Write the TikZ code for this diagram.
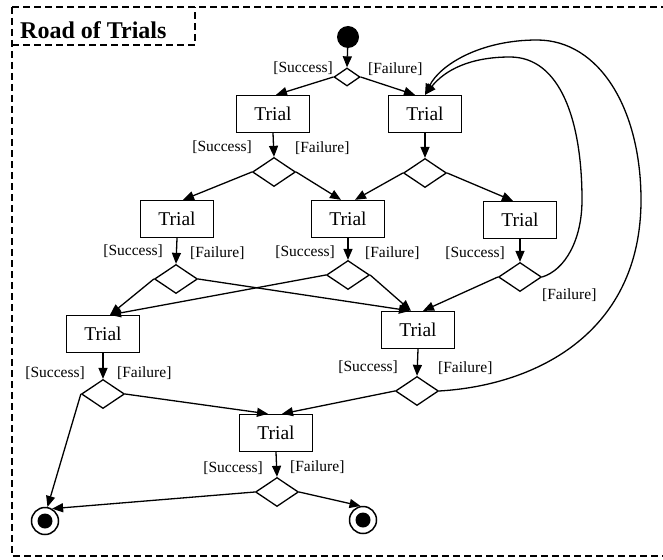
\documentclass[tikz,border=0pt]{standalone}
\usepackage{fontspec}
\setmainfont{Liberation Serif}
\usetikzlibrary{shapes.geometric,arrows.meta}
\begin{document}
\begin{tikzpicture}[x=1pt,y=-1pt,
  trial/.style={draw, line width=1.3pt, minimum width=73pt, minimum height=37pt, inner sep=0pt, font=\fontsize{19.5}{19.5}\selectfont},
  dec/.style={draw, diamond, line width=1.3pt, minimum width=43pt, minimum height=29pt, inner sep=0pt},
  smalldec/.style={draw, diamond, line width=1.3pt, minimum width=26pt, minimum height=18pt, inner sep=0pt},
  lbl/.style={font=\fontsize{15.5}{15.5}\selectfont, inner sep=0pt},
  arr/.style={line width=1.3pt, -{Triangle[length=11pt,width=9pt]}},
  frame/.style={line width=1.4pt, dash pattern=on 7pt off 4pt},
  startnode/.style={circle, fill=black, minimum size=22pt, inner sep=0pt},
  endnode/.style={circle, draw, line width=1.5pt, minimum size=27pt, inner sep=0pt,
     path picture={\fill (path picture bounding box.center) circle (7.5pt);}}
]
\useasboundingbox (0,0) rectangle (663,559);
\fill[white] (0,0) rectangle (663,559);
% frame
\draw[frame] (12,7) -- (680,7);
\draw[frame] (12,7) -- (12,556) -- (680,556);
\draw[frame] (12,45) -- (195,45) -- (195,7);
\node[anchor=west, inner sep=0pt, font=\bfseries\fontsize{24}{24}\selectfont] (title) at (20,30) {Road of Trials};

% nodes
\node[startnode] (S) at (348,37) {};
\node[smalldec] (D0) at (347,77) {};
\node[trial] (T1) at (273,114) {Trial};
\node[trial] (T2) at (425,114) {Trial};
\node[dec] (D1) at (274,172) {};
\node[dec] (D2) at (425,173) {};
\node[trial] (T3) at (177,219) {Trial};
\node[trial] (T4) at (348,219) {Trial};
\node[trial] (T5) at (520,220) {Trial};
\node[dec] (D3) at (176,279) {};
\node[dec] (D4) at (348,275) {};
\node[dec] (D5) at (520,277) {};
\node[trial] (T6) at (103,334) {Trial};
\node[trial] (T7) at (418,330) {Trial};
\node[dec] (D6) at (103,394) {};
\node[dec] (D7) at (417,391) {};
\node[trial] (T8) at (276,433) {Trial};
\node[dec] (D8) at (277,492) {};
\node[endnode] (E1) at (45,521) {};
\node[endnode] (E2) at (363,520) {};

% labels
\node[lbl, anchor=east] (l0s) at (333,68) {[Success]};
\node[lbl, anchor=west] (l0f) at (368,69) {[Failure]};
\node[lbl, anchor=east] (l1s) at (252,147) {[Success]};
\node[lbl, anchor=west] (l1f) at (295,148) {[Failure]};
\node[lbl, anchor=east] (l3s) at (163,251) {[Success]};
\node[lbl, anchor=west] (l3f) at (190,253) {[Failure]};
\node[lbl, anchor=east] (l4s) at (335,252) {[Success]};
\node[lbl, anchor=west] (l4f) at (365,253) {[Failure]};
\node[lbl, anchor=east] (l5s) at (505,253) {[Success]};
\node[lbl, anchor=west] (l5f) at (542,295) {[Failure]};
\node[lbl, anchor=east] (l6s) at (85,373) {[Success]};
\node[lbl, anchor=west] (l6f) at (117,373) {[Failure]};
\node[lbl, anchor=east] (l7s) at (398,367) {[Success]};
\node[lbl, anchor=west] (l7f) at (438,368) {[Failure]};
\node[lbl, anchor=east] (l8s) at (263,468) {[Success]};
\node[lbl, anchor=west] (l8f) at (290,467) {[Failure]};

% connectors
\draw[arr] (S) -- (D0.north);
\draw[arr] (D0.west) -- ([xshift=3pt]T1.north);
\draw[arr] (D0.east) -- ([xshift=-10pt]T2.north);
\draw[arr] (T1.south) -- (D1.north);
\draw[arr] (T2.south) -- (D2.north);
\draw[arr] (D1.west) -- ([xshift=6pt]T3.north);
\draw[arr] (D1.east) -- ([xshift=-7pt]T4.north);
\draw[arr] (D2.west) -- ([xshift=7pt]T4.north);
\draw[arr] (D2.east) -- ([xshift=-7pt]T5.north);
\draw[arr] (T3.south) -- (D3.north);
\draw[arr] (T4.south) -- (D4.north);
\draw[arr] (T5.south) -- (D5.north);
\draw[arr] (D3.west) -- ([xshift=7pt]T6.north);
\draw[arr] (D4.west) -- ([xshift=7pt]T6.north);
\draw[arr] (D3.east) -- ([xshift=-8pt]T7.north);
\draw[arr] (D4.east) -- ([xshift=-7pt]T7.north);
\draw[arr] (D5.west) -- ([xshift=5pt]T7.north);
\draw[arr] (T6.south) -- (D6.north);
\draw[arr] (T7.south) -- (D7.north);
\draw[arr] (D6.east) -- ([xshift=-8pt]T8.north);
\draw[arr] (D7.west) -- ([xshift=6pt]T8.north);
\draw[arr] (T8.south) -- (D8.north);
\draw[arr] (D6.west) -- (E1.80);
\draw[arr] (D8.west) -- (E1.60);
\draw[arr] (D8.east) -- (E2.100);

% loops back to upper right trial
\coordinate (i1) at (582,200);
\coordinate (i2) at (510,57);
\coordinate (o1) at (641,200);
\coordinate (o2) at (537,40);
\draw[arr] (D5.east) .. controls (565,270) and (582,240) .. (i1)
  .. controls (582,120) and (560,57) .. (i2)
  .. controls (470,57) and (445,70) .. (T2.north);
\draw[arr] (D7.east) .. controls (540,385) and (641,330) .. (o1)
  .. controls (641,110) and (600,40) .. (o2)
  .. controls (480,40) and (440,65) .. (T2.north);
\end{tikzpicture}
\end{document}
